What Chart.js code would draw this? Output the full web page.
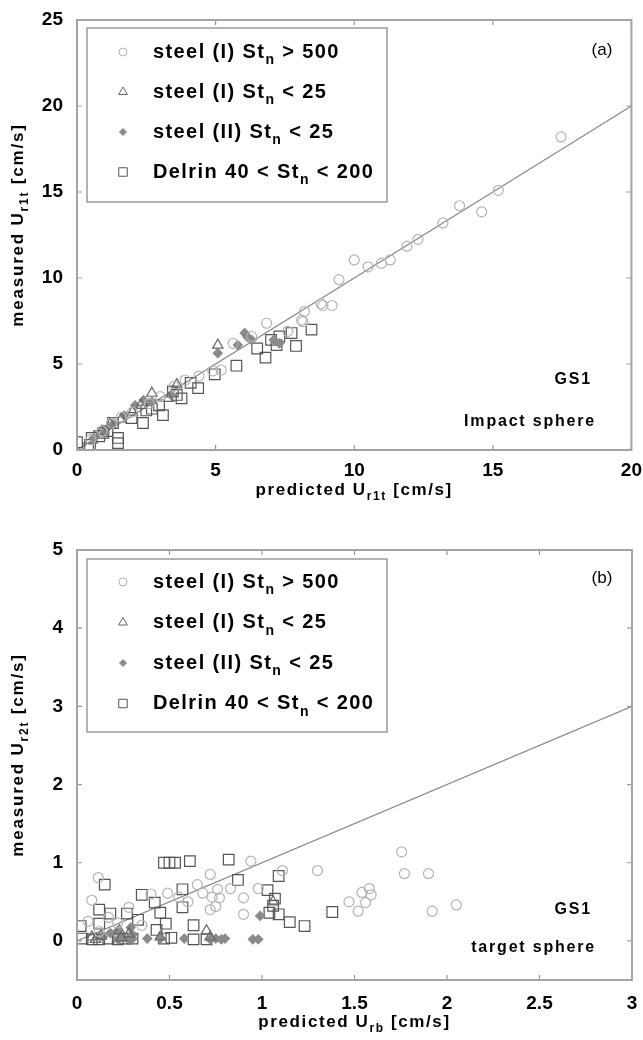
<!DOCTYPE html>
<html>
<head>
<meta charset="utf-8">
<script src="https://cdn.jsdelivr.net/npm/chart.js@4.4.0/dist/chart.umd.min.js"></script>
<style>
  html, body { margin: 0; padding: 0; background: #fff; }
  .panel { width: 643px; height: 520px; }
  canvas { display: block; }
</style>
</head>
<body>
<div class="panel"><canvas id="chartA" width="643" height="520"></canvas></div>
<div class="panel"><canvas id="chartB" width="643" height="520"></canvas></div>
<script>
// ===============================
// DATA - (a) impact sphere
// ===============================
const aCircleX = [17.46, 15.2, 14.6, 13.8, 13.2, 12.3, 11.9, 11.3, 10.98, 10.5, 10.0, 9.45, 9.2, 8.8, 8.2, 8.1, 8.87, 8.15, 6.84, 6.3, 5.63, 5.2, 4.9, 4.4, 3.9, 3.5, 3.0, 2.6, 2.0, 1.6, 1.25, 0.9, 0.5, 7.6];
const aCircleY = [18.2, 15.1, 13.85, 14.2, 13.2, 12.25, 11.85, 11.05, 10.85, 10.65, 11.05, 9.9, 8.4, 8.5, 8.05, 7.55, 8.4, 7.46, 7.37, 6.6, 6.2, 4.65, 4.6, 4.3, 4.07, 3.7, 3.1, 2.7, 2.2, 1.9, 1.57, 1.1, 0.6, 6.9];

const aTriangleX = [5.08, 2.7, 3.3, 2.3, 1.6, 1.2, 0.9, 3.6, 2.0];
const aTriangleY = [6.1, 3.3, 3.0, 2.6, 1.8, 1.5, 1.1, 3.8, 2.2];

const aDiamondX = [6.05, 6.15, 6.3, 5.8, 5.08, 7.1, 7.3, 2.4, 2.1, 2.7, 1.7, 1.3, 3.4, 1.0, 0.6];
const aDiamondY = [6.8, 6.57, 6.4, 6.1, 5.63, 6.4, 6.2, 2.9, 2.6, 2.8, 2.0, 1.5, 3.2, 1.0, 0.7];

const aSquareX = [8.46, 7.9, 7.74, 7.3, 7.0, 6.8, 6.5, 5.75, 4.97, 4.37, 3.77, 3.46, 3.1, 2.96, 2.38, 1.97, 2.5, 1.48, 1.48, 1.3, 0.95, 0.53, 0.4, 0.0, 0.47, 3.6, 2.7, 7.2, 1.1, 0.8, 4.1];
const aSquareY = [7.0, 6.05, 6.8, 6.6, 6.4, 5.37, 5.9, 4.9, 4.4, 3.6, 3.0, 3.4, 2.03, 2.6, 1.57, 1.86, 2.3, 0.4, 0.7, 1.57, 1.0, 0.7, 0.1, 0.45, 0.3, 3.2, 2.4, 6.1, 1.1, 0.8, 3.9];

// ===============================
// DATA - (b) target sphere
// ===============================
const bCircleX = [1.755, 1.3, 1.77, 1.9, 1.58, 1.54, 1.59, 1.47, 1.56, 1.52, 1.92, 2.05, 0.115, 0.08, 0.94, 1.11, 0.72, 0.65, 0.76, 0.68, 0.73, 0.9, 0.98, 0.9, 0.72, 0.75, 0.49, 0.4, 0.28, 0.22, 0.06, 0.55, 0.12, 0.83, 0.6, 0.35, 0.17, 0.77];
const bCircleY = [1.14, 0.9, 0.86, 0.86, 0.67, 0.62, 0.59, 0.5, 0.49, 0.38, 0.38, 0.46, 0.81, 0.52, 1.02, 0.9, 0.85, 0.72, 0.66, 0.61, 0.56, 0.55, 0.67, 0.34, 0.4, 0.44, 0.61, 0.6, 0.43, 0.23, 0.25, 0.56, 0.12, 0.67, 0.5, 0.2, 0.3, 0.55];

const bTriangleX = [0.7, 0.72, 0.08, 0.13, 0.23, 0.24, 0.28, 0.45, 1.06, 0.1];
const bTriangleY = [0.13, 0.05, 0.05, 0.06, 0.13, 0.04, 0.09, 0.05, 0.5, 0.02];

const bDiamondX = [0.22, 0.25, 0.28, 0.3, 0.38, 0.45, 0.72, 0.75, 0.78, 0.95, 0.98, 0.99, 0.18, 0.22, 0.29, 0.3, 0.14, 0.58, 0.8];
const bDiamondY = [0.02, 0.04, 0.02, 0.03, 0.03, 0.03, 0.02, 0.03, 0.02, 0.02, 0.02, 0.32, 0.1, 0.13, 0.17, 0.08, 0.05, 0.03, 0.03];

const bSquareX = [0.47, 0.5, 0.53, 0.61, 0.82, 0.15, 0.87, 1.09, 1.03, 0.57, 0.35, 0.42, 0.57, 0.45, 0.12, 0.18, 0.27, 0.33, 0.48, 0.63, 0.43, 0.02, 0.12, 1.07, 1.04, 1.09, 1.15, 1.23, 1.38, 0.51, 0.63, 0.7, 0.47, 0.03, 0.08, 0.12, 0.17, 0.22, 0.26, 0.3, 1.06];
const bSquareY = [1.0, 1.0, 1.0, 1.02, 1.04, 0.72, 0.78, 0.83, 0.65, 0.66, 0.59, 0.49, 0.43, 0.36, 0.4, 0.35, 0.35, 0.27, 0.22, 0.2, 0.14, 0.19, 0.22, 0.54, 0.36, 0.34, 0.24, 0.19, 0.37, 0.04, 0.02, 0.02, 0.03, 0.03, 0.02, 0.02, 0.03, 0.02, 0.03, 0.03, 0.45];

// ===============================
// LABELS / TICKS
// ===============================
const legendLabels = [
  ["steel (I) St", "n", " > 500"],
  ["steel (I) St", "n", " < 25"],
  ["steel (II) St", "n", " < 25"],
  ["Delrin 40 < St", "n", " < 200"]
];
const aXRange = [0, 20, 5];
const aYRange = [0, 25, 5];
const bXRange = [0, 3, 0.5];
const bYRange = [-0.5, 5, 1];
const aTitles = { x: ["predicted U", "r1t", " [cm/s]"], y: ["measured U", "r1t", " [cm/s]"] };
const bTitles = { x: ["predicted U", "rb", " [cm/s]"], y: ["measured U", "r2t", " [cm/s]"] };

// ===============================
// STYLES
// ===============================
const FONT = "'Liberation Sans', Arial, sans-serif";
const seriesStyles = [
  { pointStyle: "circle", radius: 5, color: "#b4b4b4", fill: "rgba(0,0,0,0)", legendRadius: 4 },
  { pointStyle: "triangle", radius: 6, color: "#666", fill: "rgba(0,0,0,0)", legendRadius: 5 },
  { pointStyle: "rectRot", radius: 4.5, color: "#8a8a8a", fill: "#8a8a8a", legendRadius: 3.5 },
  { pointStyle: "rect", radius: 7.5, color: "#555", fill: "rgba(0,0,0,0)", legendRadius: 6 }
];

const toPoints = (xs, ys) => xs.map((x, i) => ({ x, y: ys[i] }));
const tickText = v => String(Number(v.toFixed(2)));

// ===============================
// DRAW HELPERS
// ===============================
function drawSubText(ctx, parts, x, y, size, align, spacing) {
  const [main, sub, tail] = parts;
  const big = `bold ${size}px ${FONT}`;
  const small = `bold ${Math.round(size * 0.72)}px ${FONT}`;
  ctx.letterSpacing = spacing + "px";
  ctx.font = big;
  const w1 = ctx.measureText(main).width;
  const w3 = ctx.measureText(tail).width;
  ctx.font = small;
  const w2 = ctx.measureText(sub).width;
  const total = w1 + w2 + w3;
  let sx = align === "center" ? x - total / 2 : (align === "right" ? x - total : x);
  ctx.textAlign = "left";
  ctx.textBaseline = "middle";
  ctx.font = big;
  ctx.fillText(main, sx, y);
  ctx.font = small;
  ctx.fillText(sub, sx + w1, y + size * 0.42);
  ctx.font = big;
  ctx.fillText(tail, sx + w1 + w2, y);
  ctx.letterSpacing = "0px";
}

const framePlugin = {
  id: "frame",
  afterDatasetsDraw(chart, args, opts) {
    const { ctx, chartArea: a, scales } = chart;
    ctx.save();
    // inner ticks
    ctx.strokeStyle = "#9a9a9a";
    ctx.lineWidth = 1.2;
    ctx.beginPath();
    scales.x.ticks.forEach(t => {
      const px = scales.x.getPixelForValue(t.value);
      ctx.moveTo(px, a.bottom); ctx.lineTo(px, a.bottom - 5);
      ctx.moveTo(px, a.top); ctx.lineTo(px, a.top + 5);
    });
    scales.y.ticks.forEach(t => {
      const py = scales.y.getPixelForValue(t.value);
      ctx.moveTo(a.left, py); ctx.lineTo(a.left + 5, py);
      ctx.moveTo(a.right, py); ctx.lineTo(a.right - 5, py);
    });
    ctx.stroke();
    // box
    ctx.strokeStyle = "#a4a4a4";
    ctx.lineWidth = 2;
    ctx.strokeRect(a.left, a.top, a.right - a.left, a.bottom - a.top);

    // legend
    const lg = opts.legend;
    ctx.fillStyle = "#fff";
    ctx.fillRect(lg.left, lg.top, lg.width, lg.height);
    ctx.strokeStyle = "#9a9a9a";
    ctx.lineWidth = 1.5;
    ctx.strokeRect(lg.left, lg.top, lg.width, lg.height);
    legendLabels.forEach((parts, i) => {
      const s = seriesStyles[i];
      const yy = lg.firstY + i * lg.step;
      ctx.strokeStyle = s.color;
      ctx.fillStyle = s.fill;
      ctx.lineWidth = 1;
      Chart.helpers.drawPoint(ctx, { pointStyle: s.pointStyle, radius: s.legendRadius, rotation: 0, borderWidth: 1 }, lg.markerX, yy);
      ctx.fillStyle = "#000";
      drawSubText(ctx, parts, lg.textX, yy, 20, "left", 1.4);
    });

    // corner labels
    ctx.fillStyle = "#000";
    ctx.font = `17px ${FONT}`;
    ctx.textAlign = "center";
    ctx.textBaseline = "middle";
    ctx.fillText(opts.tag, 602, opts.tagY);
    ctx.font = `bold 16px ${FONT}`;
    ctx.letterSpacing = "1.8px";
    ctx.textAlign = "right";
    ctx.fillText("GS1", 592, opts.nameY);
    ctx.fillText(opts.note, 596, opts.noteY);
    ctx.letterSpacing = "0px";

    // axis titles
    const cx = (a.left + a.right) / 2;
    drawSubText(ctx, opts.titles.x, cx, opts.xTitleY, 17, "center", 1.6);
    ctx.translate(18, (a.top + a.bottom) / 2 - 10);
    ctx.rotate(-Math.PI / 2);
    drawSubText(ctx, opts.titles.y, 0, 0, 17, "center", 1.8);
    ctx.restore();
  }
};

// ===============================
// CHART BUILDER
// ===============================
function makeChart(id, sets, xr, yr, cfg) {
  const datasets = sets.map((pts, i) => {
    const s = seriesStyles[i];
    return {
      type: "scatter",
      data: pts,
      pointStyle: s.pointStyle,
      pointRadius: s.radius,
      pointBorderColor: s.color,
      pointBackgroundColor: s.fill,
      pointBorderWidth: 1.2
    };
  });
  datasets.push({
    type: "line",
    data: [{ x: xr[0], y: xr[0] }, { x: xr[1], y: xr[1] }],
    borderColor: "#8a8a8a",
    borderWidth: 1.3,
    pointRadius: 0
  });

  return new Chart(document.getElementById(id), {
    data: { datasets },
    options: {
      responsive: false,
      animation: false,
      layout: { padding: { top: cfg.padTop, right: 11, left: 0, bottom: 0 } },
      plugins: { legend: { display: false }, tooltip: { enabled: false }, frame: cfg },
      scales: {
        x: {
          type: "linear", min: xr[0], max: xr[1],
          ticks: { stepSize: xr[2], callback: tickText, color: "#000", font: { family: FONT, size: 19, weight: "bold" }, padding: cfg.xPad, maxRotation: 0 },
          grid: { display: false }, border: { display: false },
          afterFit: s => { s.height = cfg.xHeight; }
        },
        y: {
          type: "linear", min: yr[0], max: yr[1],
          ticks: { stepSize: yr[2], callback: tickText, includeBounds: false, color: "#000", font: { family: FONT, size: 19, weight: "bold" }, padding: 6 },
          grid: { display: false }, border: { display: false },
          afterFit: s => { s.width = 77; }
        }
      }
    },
    plugins: [framePlugin]
  });
}

// ===============================
// INIT
// ===============================
makeChart("chartA",
  [toPoints(aCircleX, aCircleY), toPoints(aTriangleX, aTriangleY), toPoints(aDiamondX, aDiamondY), toPoints(aSquareX, aSquareY)],
  aXRange, aYRange,
  {
    padTop: 20, xHeight: 70, xPad: 1, xTitleY: 490,
    titles: aTitles, tag: "(a)", tagY: 50, note: "Impact sphere", nameY: 380, noteY: 422,
    legend: { left: 87, top: 28, width: 300, height: 174, firstY: 52, step: 40, markerX: 123, textX: 153 }
  });

makeChart("chartB",
  [toPoints(bCircleX, bCircleY), toPoints(bTriangleX, bTriangleY), toPoints(bDiamondX, bDiamondY), toPoints(bSquareX, bSquareY)],
  bXRange, bYRange,
  {
    padTop: 30, xHeight: 60, xPad: 4, xTitleY: 502,
    titles: bTitles, tag: "(b)", tagY: 58, note: "target sphere", nameY: 390, noteY: 428,
    legend: { left: 87, top: 39, width: 300, height: 173, firstY: 62, step: 40.5, markerX: 123, textX: 153 }
  });
</script>
</body>
</html>
